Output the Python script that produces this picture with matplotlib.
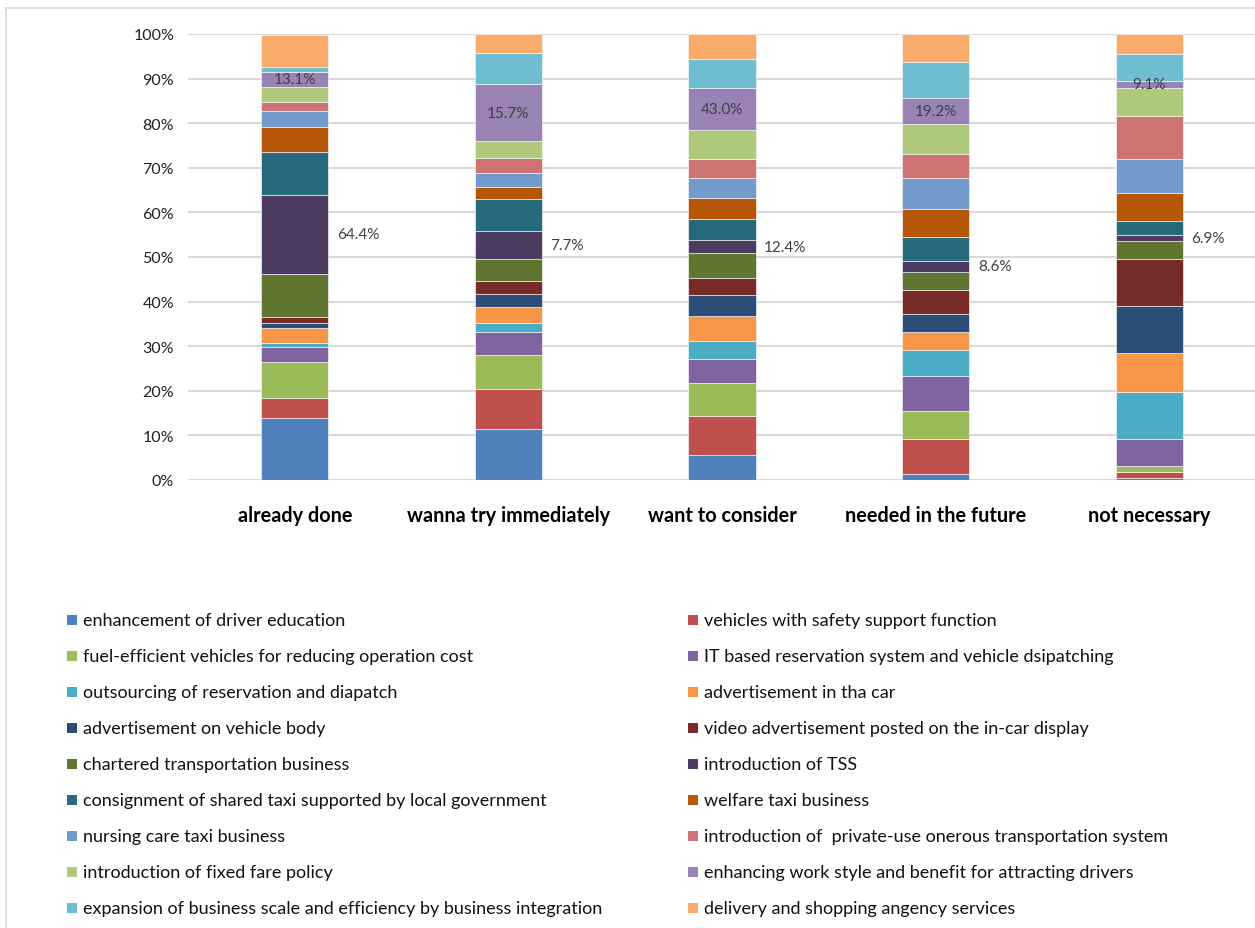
import matplotlib
matplotlib.use("Agg")
import matplotlib.pyplot as plt
from matplotlib.patches import Rectangle
from matplotlib.lines import Line2D
from matplotlib.ticker import PercentFormatter
import numpy as np

plt.rcParams['font.family'] = ['Lato', 'DejaVu Sans']

categories = ["already done", "wanna try immediately", "want to consider",
              "needed in the future", "not necessary"]

series_names = [
    "enhancement of driver education",
    "vehicles with safety support function",
    "fuel-efficient vehicles for reducing operation cost",
    "IT based reservation system and vehicle dsipatching",
    "outsourcing of reservation and diapatch",
    "advertisement in tha car",
    "advertisement on vehicle body",
    "video advertisement posted on the in-car display",
    "chartered transportation business",
    "introduction of TSS",
    "consignment of shared taxi supported by local government",
    "welfare taxi business",
    "nursing care taxi business",
    "introduction of  private-use onerous transportation system",
    "introduction of fixed fare policy",
    "enhancing work style and benefit for attracting drivers",
    "expansion of business scale and efficiency by business integration",
    "delivery and shopping angency services",
]

# share (%) of each measure within each answer group
driver_education   = [14.0, 11.4, 5.5, 1.4, 0.4]
safety_support     = [4.3, 9.0, 8.8, 7.8, 1.4]
fuel_efficient     = [8.2, 7.6, 7.5, 6.3, 1.3]
it_reservation     = [3.3, 5.2, 5.3, 7.9, 6.0]
outsourcing        = [1.0, 1.9, 4.1, 5.7, 10.6]
ad_in_car          = [3.3, 3.7, 5.5, 4.1, 8.7]
ad_vehicle_body    = [1.2, 3.0, 4.8, 4.0, 10.6]
video_ad           = [1.3, 2.9, 3.9, 5.5, 10.6]
chartered          = [9.7, 4.8, 5.5, 4.0, 4.0]
tss                = [17.5, 6.4, 2.8, 2.5, 1.3]
shared_taxi        = [9.7, 7.0, 4.9, 5.2, 3.2]
welfare_taxi       = [5.7, 2.9, 4.6, 6.3, 6.2]
nursing_taxi       = [3.5, 3.0, 4.5, 7.1, 7.6]
private_use        = [2.0, 3.3, 4.3, 5.2, 9.8]
fixed_fare         = [3.4, 3.8, 6.4, 6.8, 6.2]
work_style         = [3.4, 12.8, 9.5, 5.8, 1.6]
business_scale     = [1.0, 7.0, 6.6, 8.1, 6.1]
delivery_shopping  = [7.3, 4.3, 5.5, 6.2, 4.4]

# respondent rates written on the chart
work_style_labels = ["13.1%", "15.7%", "43.0%", "19.2%", "9.1%"]
tss_labels        = ["64.4%", "7.7%", "12.4%", "8.6%", "6.9%"]

series_values = [driver_education, safety_support, fuel_efficient, it_reservation,
                 outsourcing, ad_in_car, ad_vehicle_body, video_ad, chartered, tss,
                 shared_taxi, welfare_taxi, nursing_taxi, private_use, fixed_fare,
                 work_style, business_scale, delivery_shopping]

colors = ["#4F81BD", "#C0504D", "#9BBB59", "#8064A2", "#4BACC6", "#F79646",
          "#2C4D75", "#772C2A", "#5F7530", "#4D3B62", "#276A7C", "#B65708",
          "#729ACA", "#CD7371", "#AFC97A", "#9983B5", "#6FBDD1", "#F9AB6B"]

W, H = 1255, 929
fig = plt.figure(figsize=(W / 100, H / 100), dpi=100)
fig.patch.set_facecolor("white")

ax = fig.add_axes([188 / W, 1 - 481 / H, 1068 / W, (481 - 35) / H])
x = np.arange(len(categories))
bar_w = 0.315
bottom = np.zeros(len(categories))
segments = []
for vals, col in zip(series_values, colors):
    v = np.array(vals, dtype=float)
    ax.bar(x, v, bar_w, bottom=bottom, color=col, edgecolor="white",
           linewidth=0.4, zorder=3)
    segments.append((bottom.copy(), v))
    bottom += v

# labels inside the work-style segments
b, v = segments[15]
for i, lab in enumerate(work_style_labels):
    ax.text(x[i], b[i] + v[i] / 2, lab, ha="center", va="center",
            fontsize=11, color="#404040", zorder=4)
# labels beside the TSS segments
b, v = segments[9]
for i, lab in enumerate(tss_labels):
    ax.text(x[i] + bar_w / 2 + 0.04, b[i] + v[i] / 2, lab, ha="left",
            va="center", fontsize=11, color="#404040", zorder=4)

ax.set_xlim(-0.5, 4.5)
ax.set_ylim(0, 100)
ax.set_yticks(np.arange(0, 101, 10))
ax.yaxis.set_major_formatter(PercentFormatter(decimals=0))
ax.set_xticks(x)
ax.set_xticklabels(categories, fontsize=14.3, fontweight="bold", color="black")
ax.tick_params(axis="x", length=0, pad=18)
ax.tick_params(axis="y", length=0, pad=10, labelsize=11.5, labelcolor="#222222")
ax.grid(axis="y", color="#D9D9D9", linewidth=1.5, zorder=0)
for s in ax.spines.values():
    s.set_visible(False)

# legend: two columns, row-major order
for k, (name, col) in enumerate(zip(series_names, colors)):
    row, colm = divmod(k, 2)
    yc = 621 + row * 36
    xm = 67 if colm == 0 else 688
    fig.patches.append(Rectangle((xm / W, 1 - (yc + 5) / H), 10 / W, 10 / H,
                                 transform=fig.transFigure, facecolor=col,
                                 edgecolor="none"))
    fig.text((xm + 16) / W, 1 - yc / H, name, ha="left", va="center",
             fontsize=13, color="#111111")

# outer frame
fig.add_artist(Line2D([6 / W, 1], [1 - 9 / H, 1 - 9 / H], transform=fig.transFigure,
                      color="#D9D9D9", linewidth=1.2))
fig.add_artist(Line2D([6 / W, 6 / W], [0, 1 - 9 / H], transform=fig.transFigure,
                      color="#D9D9D9", linewidth=1.2))

fig.savefig("out.png", dpi=100, facecolor="white")
